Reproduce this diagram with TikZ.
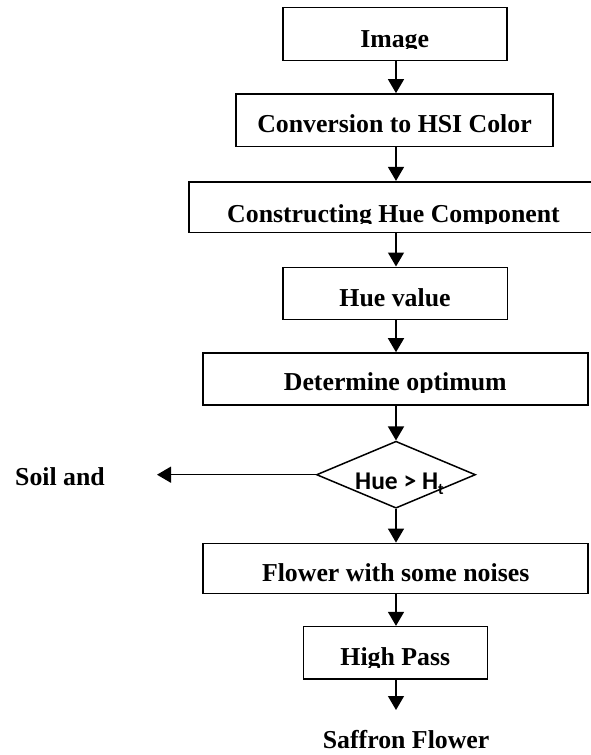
\documentclass[tikz,border=0pt]{standalone}
\usepackage{fontspec}
\setmainfont{Liberation Serif}
\newfontfamily\calibri{Carlito}
\usetikzlibrary{shapes.geometric,arrows.meta}
\begin{document}
\begin{tikzpicture}[x=1pt,y=-1pt,
  box/.style={draw,line width=1.6pt,inner sep=0pt},
  dia/.style={draw,diamond,line width=1.5pt,inner sep=0pt},
  txt/.style={anchor=base,inner sep=0pt,font=\bfseries\fontsize{25.8}{30}\selectfont},
  arr/.style={line width=1.4pt,-{Triangle[length=14pt,width=16pt]}}]
\useasboundingbox (0,0) rectangle (590,755);
\fill[white] (0,0) rectangle (590,755);
% boxes
\node[box,minimum width=224pt,minimum height=53pt] (img) at (395,34) {};
\node[box,minimum width=317pt,minimum height=52.7pt] (conv) at (394.5,120.3) {};
\node[box,minimum width=409pt,minimum height=50.6pt] (cons) at (393.5,207) {};
\node[box,minimum width=224.5pt,minimum height=52pt] (hue) at (395.2,293.3) {};
\node[box,minimum width=385pt,minimum height=52pt] (det) at (395.6,379) {};
\node[dia,minimum width=159pt,minimum height=67pt] (dec) at (396,474.7) {};
\node[box,minimum width=385pt,minimum height=50pt] (flw) at (395.6,568.4) {};
\node[box,minimum width=184pt,minimum height=52.3pt] (hp) at (395.3,652.8) {};
% texts
\begin{scope}\clip (0,0) rectangle (590,48.6);
  \node[txt] (timg) at (394.7,47.7) {Image};
\end{scope}
\node[txt] (tconv) at (394.5,132.5) {Conversion to HSI Color};
\begin{scope}\clip (0,150) rectangle (590,223.2);
  \node[txt] (tcons) at (393.5,222) {Constructing Hue Component};
\end{scope}
\node[txt] (thue) at (395,306.5) {Hue value};
\begin{scope}\clip (0,330) rectangle (590,392.3);
  \node[txt] (tdet) at (395.3,390.8) {Determine optimum};
\end{scope}
\begin{scope}\clip (0,440) rectangle (590,493);
  \node[anchor=base west,inner sep=0pt,font=\calibri\bfseries\fontsize{25.5}{30}\selectfont] (tdec) at (355,489) {Hue > H\raisebox{-0.22em}{\fontsize{16}{16}\selectfont t}};
\end{scope}
\node[txt] (tflw) at (395.7,581.7) {Flower with some noises};
\begin{scope}\clip (0,600) rectangle (590,667.4);
  \node[txt] (thp) at (395.3,665) {High Pass};
\end{scope}
\node[txt,anchor=base west] (soil) at (15,485) {Soil and};
\node[txt,anchor=base west] (saff) at (322.7,748) {Saffron Flower};
% free ends
\coordinate (soilin) at (157,474.7);
\coordinate (saffin) at (396,710);
% connectors
\draw[arr] (img.south -| 396,0) -- (396,0 |- conv.north);
\draw[arr] (conv.south -| 396,0) -- (396,0 |- cons.north);
\draw[arr] (cons.south -| 396,0) -- (396,0 |- hue.north);
\draw[arr] (hue.south -| 396,0) -- (396,0 |- det.north);
\draw[arr] (det.south -| dec.north) -- (dec.north);
\draw[arr] (dec.west) -- (soilin);
\draw[arr] (dec.south) -- (dec.south |- flw.north);
\draw[arr] (flw.south -| 396,0) -- (396,0 |- hp.north);
\draw[arr] (hp.south -| 396,0) -- (saffin);
\end{tikzpicture}
\end{document}
